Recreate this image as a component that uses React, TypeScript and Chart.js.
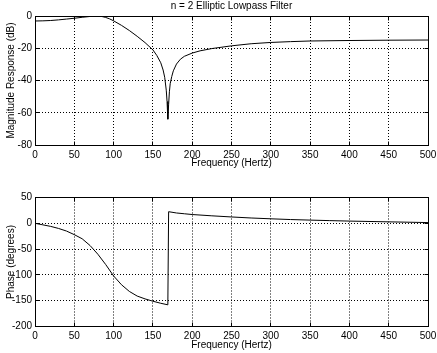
import React, { useEffect, useRef } from "react";
import { Chart, registerables } from "chart.js";

Chart.register(...registerables);

// ---- data ----
const MAG_FREQ = [0, 10, 20, 30, 40, 50, 60, 70, 80, 85, 90, 95, 100, 110, 120, 130, 140, 150, 155, 160, 163, 165, 167, 168, 169, 170, 171, 172, 174, 176, 180, 185, 190, 200, 210, 225, 250, 275, 300, 325, 350, 400, 450, 500];
const MAG_DB = [-3.1, -3.0, -2.8, -2.4, -1.9, -1.4, -0.8, -0.3, 0, -0.3, -0.9, -1.8, -3.0, -5.8, -9.0, -12.6, -16.5, -21, -24.5, -29, -33.5, -38, -46, -53, -64, -55, -47, -42, -37.5, -34, -29.8, -26.8, -25, -23, -21.6, -20.2, -18.5, -17.2, -16.4, -15.9, -15.5, -15.2, -15.0, -14.9];

const PHASE_FREQ = [0, 10, 20, 30, 40, 50, 60, 70, 80, 90, 100, 110, 120, 130, 140, 150, 160, 169, 170, 180, 190, 200, 225, 250, 275, 300, 325, 350, 375, 400, 450, 500];
const PHASE_DEG = [0, -3, -6, -10, -15, -22, -30, -43, -60, -80, -102, -119, -132, -141, -146.5, -151, -155, -158, 22.5, 20, 18.5, 17, 14.5, 12.3, 10.3, 8.7, 7.3, 6.2, 5.2, 4.3, 2.8, 1.4];

const FREQ_TICKS = [0, 50, 100, 150, 200, 250, 300, 350, 400, 450, 500];
const MAG_TICKS = [-80, -60, -40, -20, 0];
const PHASE_TICKS = [-200, -150, -100, -50, 0, 50];

const TITLE = "n = 2 Elliptic Lowpass Filter";
const X_LABEL = "Frequency (Hertz)";
const MAG_LABEL = "Magnitude Response (dB)";
const PHASE_LABEL = "Phase (degrees)";

const FONT = "'Liberation Sans', Arial, Helvetica, sans-serif";

type Area = { left: number; top: number; right: number; bottom: number };

function align(v: number) {
  return Math.round(v - 0.5) + 0.5;
}

const boxPlugin = {
  id: "matlabBox",
  afterDraw(chart: any) {
    const { ctx, chartArea } = chart;
    const l = align(chartArea.left);
    const r = align(chartArea.right);
    const t = align(chartArea.top);
    const b = align(chartArea.bottom);
    ctx.save();
    ctx.setLineDash([]);
    ctx.strokeStyle = "#000";
    ctx.lineWidth = 1;
    ctx.strokeRect(l, t, r - l, b - t);
    const tl = 4;
    ctx.beginPath();
    const xs = chart.scales.x;
    xs.ticks.forEach((tk: any) => {
      const px = align(xs.getPixelForValue(tk.value));
      ctx.moveTo(px, b);
      ctx.lineTo(px, b - tl);
      ctx.moveTo(px, t);
      ctx.lineTo(px, t + tl);
    });
    const ys = chart.scales.y;
    ys.ticks.forEach((tk: any) => {
      const py = align(ys.getPixelForValue(tk.value));
      ctx.moveTo(l, py);
      ctx.lineTo(l + tl, py);
      ctx.moveTo(r, py);
      ctx.lineTo(r - tl, py);
    });
    ctx.stroke();
    const title = chart.options.plugins?.matlabBox?.title;
    if (title) {
      ctx.fillStyle = "#000";
      ctx.font = `10px ${FONT}`;
      ctx.textAlign = "center";
      ctx.textBaseline = "middle";
      ctx.fillText(title, (chartArea.left + chartArea.right) / 2, chartArea.top - 10);
    }
    ctx.restore();
  },
};

function Plot(props: {
  top: number;
  width: number;
  height: number;
  area: Area;
  xs: number[];
  ys: number[];
  yTicks: number[];
  yLabel: string;
  title?: string;
  xTitlePad: number;
}) {
  const ref = useRef<HTMLCanvasElement | null>(null);
  useEffect(() => {
    const canvas = ref.current;
    if (!canvas) return;
    const { width, height, area, xs, ys, yTicks } = props;
    const font = { family: FONT, size: 10, lineHeight: 1.2 };
    const chart = new Chart(canvas, {
      type: "line",
      data: {
        datasets: [
          {
            data: xs.map((x, i) => ({ x, y: ys[i] })),
            borderColor: "#000",
            borderWidth: 1,
            pointRadius: 0,
            tension: 0,
            fill: false,
          },
        ],
      },
      options: {
        responsive: false,
        animation: false,
        devicePixelRatio: 1,
        layout: { padding: { left: 0, top: area.top, right: width - area.right, bottom: 0 } },
        plugins: {
          legend: { display: false },
          tooltip: { enabled: false },
          title: { display: false },
          matlabBox: { title: props.title },
        } as any,
        scales: {
          x: {
            type: "linear",
            min: FREQ_TICKS[0],
            max: FREQ_TICKS[FREQ_TICKS.length - 1],
            afterBuildTicks: (s: any) => {
              s.ticks = FREQ_TICKS.map((v) => ({ value: v }));
            },
            ticks: { color: "#000", font, padding: 4, maxRotation: 0, autoSkip: false },
            grid: { color: "#000", lineWidth: 1, drawTicks: false },
            border: { display: true, color: "#000", width: 1, dash: [1, 2] },
            title: { display: true, text: X_LABEL, color: "#000", font, padding: { top: 0, bottom: props.xTitlePad } },
            afterFit: (s: any) => {
              s.height = height - area.bottom;
              s.paddingLeft = 0;
              s.paddingRight = 0;
            },
          },
          y: {
            type: "linear",
            min: yTicks[0],
            max: yTicks[yTicks.length - 1],
            afterBuildTicks: (s: any) => {
              s.ticks = yTicks.map((v) => ({ value: v }));
            },
            ticks: { color: "#000", font, padding: 3, autoSkip: false },
            grid: { color: "#000", lineWidth: 1, drawTicks: false },
            border: { display: true, color: "#000", width: 1, dash: [1, 2] },
            title: { display: true, text: props.yLabel, color: "#000", font, padding: { top: 5, bottom: 0 } },
            afterFit: (s: any) => {
              s.width = area.left;
              s.paddingTop = 0;
              s.paddingBottom = 0;
            },
          },
        },
      } as any,
      plugins: [boxPlugin],
    });
    return () => chart.destroy();
  }, []);
  return (
    <canvas
      ref={ref}
      width={props.width}
      height={props.height}
      style={{ position: "absolute", left: 0, top: props.top, width: props.width, height: props.height }}
    />
  );
}

export default function App() {
  return (
    <div style={{ position: "absolute", left: 0, top: 0, width: 437, height: 353, background: "#fff", overflow: "hidden" }}>
      <Plot
        top={0}
        width={437}
        height={175}
        area={{ left: 35, top: 16, right: 428, bottom: 145 }}
        xs={MAG_FREQ}
        ys={MAG_DB}
        yTicks={MAG_TICKS}
        yLabel={MAG_LABEL}
        title={TITLE}
        xTitlePad={6}
      />
      <Plot
        top={175}
        width={437}
        height={178}
        area={{ left: 35, top: 22.5, right: 428, bottom: 151.5 }}
        xs={PHASE_FREQ}
        ys={PHASE_DEG}
        yTicks={PHASE_TICKS}
        yLabel={PHASE_LABEL}
        xTitlePad={2}
      />
    </div>
  );
}
